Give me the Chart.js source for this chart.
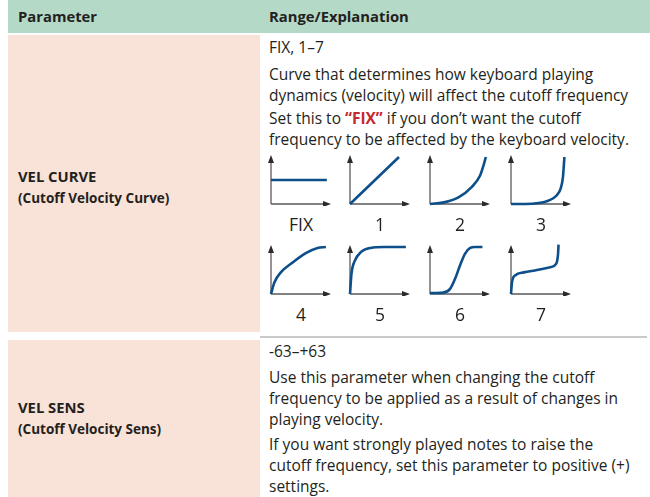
<!DOCTYPE html>
<html>
<head>
<meta charset="utf-8">
<script src="https://cdn.jsdelivr.net/npm/chart.js@4.4.1/dist/chart.umd.min.js"></script>
<style>
  html, body { margin: 0; padding: 0; background: #fff; }
  body { width: 650px; height: 497px; position: relative; overflow: hidden;
         font-family: "Open Sans", "Noto Sans", sans-serif; color: #231f20; }
  .abs { position: absolute; white-space: nowrap; }
  .head { left: 8px; top: 0; width: 642px; height: 33px; background: #b4d9c6; }
  .pink { background: #f9e2d7; left: 8px; width: 252px; }
  .hd { font-weight: bold; font-size: 14.8px; top: 6px; }
  .txt { font-size: 15.5px; left: 269px; line-height: 21px; }
  .name { font-weight: bold; font-size: 14.8px; left: 18px; }
  .sub { font-weight: bold; font-size: 13.5px; left: 18px; }
  .rule { left: 260px; top: 336px; width: 387px; height: 2px; background: #c9c9c9; }
  .lbl { font-size: 17.5px; width: 80px; text-align: center; }
  canvas { position: absolute; }
  .red { color: #c5282f; font-weight: bold; }
</style>
</head>
<body>
<div class="abs head"></div>
<div class="abs hd" style="left:18px">Parameter</div>
<div class="abs hd" style="left:269px">Range/Explanation</div>

<div class="abs pink" style="top:35px;height:297px"></div>
<div class="abs pink" style="top:340px;height:157px"></div>
<div class="abs rule"></div>

<div class="abs name" style="top:166px">VEL CURVE</div>
<div class="abs sub" style="top:189px">(Cutoff Velocity Curve)</div>
<div class="abs name" style="top:397px">VEL SENS</div>
<div class="abs sub" style="top:420px">(Cutoff Velocity Sens)</div>

<div class="abs txt" style="top:37px">FIX, 1–7</div>
<div class="abs txt" style="top:64px">Curve that determines how keyboard playing<br>dynamics (velocity) will affect the cutoff frequency</div>
<div class="abs txt" style="top:108px">Set this to <span class="red">“FIX”</span> if you don’t want the cutoff<br>frequency to be affected by the keyboard velocity.</div>

<div class="abs txt" style="top:341px">-63–+63</div>
<div class="abs txt" style="top:367px">Use this parameter when changing the cutoff<br>frequency to be applied as a result of changes in<br>playing velocity.</div>
<div class="abs txt" style="top:434px">If you want strongly played notes to raise the<br>cutoff frequency, set this parameter to positive (+)<br>settings.</div>

<div id="charts"></div>

<script>
// curve names shown under each small graph
const curveNames = ["FIX", "1", "2", "3", "4", "5", "6", "7"];

// [velocity, cutoff] (x: 1 = width of curve 1)
const curveFix = [[0, 0.51], [1.14, 0.51]];
const curve1 = [[0, 0], [1.0, 1.0]];
const curve2 = [[0, 0], [0.31, 0.04], [0.58, 0.14], [0.85, 0.36], [1.02, 0.6], [1.1, 0.85], [1.14, 1.0]];
const curve3 = [[0, 0], [0.29, 0.0], [0.56, 0.02], [0.76, 0.07], [0.93, 0.18], [1.02, 0.35], [1.06, 0.57], [1.08, 0.85], [1.09, 1.0]];
const curve4 = [[0, 0], [0.07, 0.25], [0.2, 0.46], [0.44, 0.67], [0.71, 0.87], [0.95, 0.98], [1.12, 1.0]];
const curve5 = [[0, 0], [0.03, 0.43], [0.1, 0.71], [0.22, 0.89], [0.42, 0.98], [0.69, 1.0], [1.14, 1.0]];
const curve6 = [[0, 0.02], [0.27, 0.03], [0.41, 0.11], [0.51, 0.32], [0.61, 0.6], [0.71, 0.85], [0.82, 0.98], [0.92, 1.0], [1.07, 1.0]];
const curve7 = [[0, 0], [0.02, 0.25], [0.09, 0.4], [0.26, 0.46], [0.53, 0.51], [0.8, 0.57], [0.92, 0.64], [0.96, 0.85], [0.97, 1.05]];

const curves = [curveFix, curve1, curve2, curve3, curve4, curve5, curve6, curve7];

// where the y axis of each graph sits on the page
const axisLeft = [271, 350, 430, 511];
const rowTop = [150, 240];

const arrowAxes = {
  id: "arrowAxes",
  beforeDatasetsDraw(chart) {
    const { ctx } = chart;
    const x = chart.scales.x, y = chart.scales.y;
    const x0 = x.getPixelForValue(0), y0 = y.getPixelForValue(0);
    const top = y.getPixelForValue(1) - 2, right = x.right;
    ctx.save();
    ctx.strokeStyle = "#5a5a5a";
    ctx.lineWidth = 1.3;
    ctx.beginPath();
    ctx.moveTo(x0, y0); ctx.lineTo(x0, top + 5);
    ctx.moveTo(x0, y0); ctx.lineTo(right - 5, y0);
    ctx.stroke();
    ctx.fillStyle = "#2b2b2b";
    ctx.beginPath();
    ctx.moveTo(x0, top); ctx.lineTo(x0 - 3, top + 8); ctx.lineTo(x0 + 3, top + 8); ctx.closePath();
    ctx.moveTo(right, y0); ctx.lineTo(right - 8, y0 - 3); ctx.lineTo(right - 8, y0 + 3); ctx.closePath();
    ctx.fill();
    ctx.restore();
  }
};

const holder = document.getElementById("charts");
curves.forEach((pts, i) => {
  const col = i % 4, row = Math.floor(i / 4);
  const canvas = document.createElement("canvas");
  canvas.width = 80; canvas.height = 56;
  canvas.style.left = (axisLeft[col] - 8) + "px";
  canvas.style.top = rowTop[row] + "px";
  holder.appendChild(canvas);

  const lbl = document.createElement("div");
  lbl.className = "abs lbl";
  lbl.textContent = curveNames[i];
  lbl.style.left = (axisLeft[col] - 10) + "px";
  lbl.style.top = (rowTop[row] + 62) + "px";
  holder.appendChild(lbl);

  new Chart(canvas, {
    type: "line",
    data: {
      datasets: [{
        data: pts.map(p => ({ x: p[0], y: p[1] })),
        borderColor: "#0d4f8b",
        borderWidth: 2.6,
        pointRadius: 0,
        cubicInterpolationMode: "monotone",
        clip: false,
      }],
    },
    options: {
      responsive: false,
      animation: false,
      events: [],
      layout: { padding: { left: 8, right: 12, top: 7, bottom: 2 } },
      scales: {
        x: { type: "linear", min: 0, max: 60 / 49, display: false },
        y: { min: 0, max: 1, display: false },
      },
      plugins: { legend: { display: false }, tooltip: { enabled: false } },
    },
    plugins: [arrowAxes],
  });
});
</script>
</body>
</html>
